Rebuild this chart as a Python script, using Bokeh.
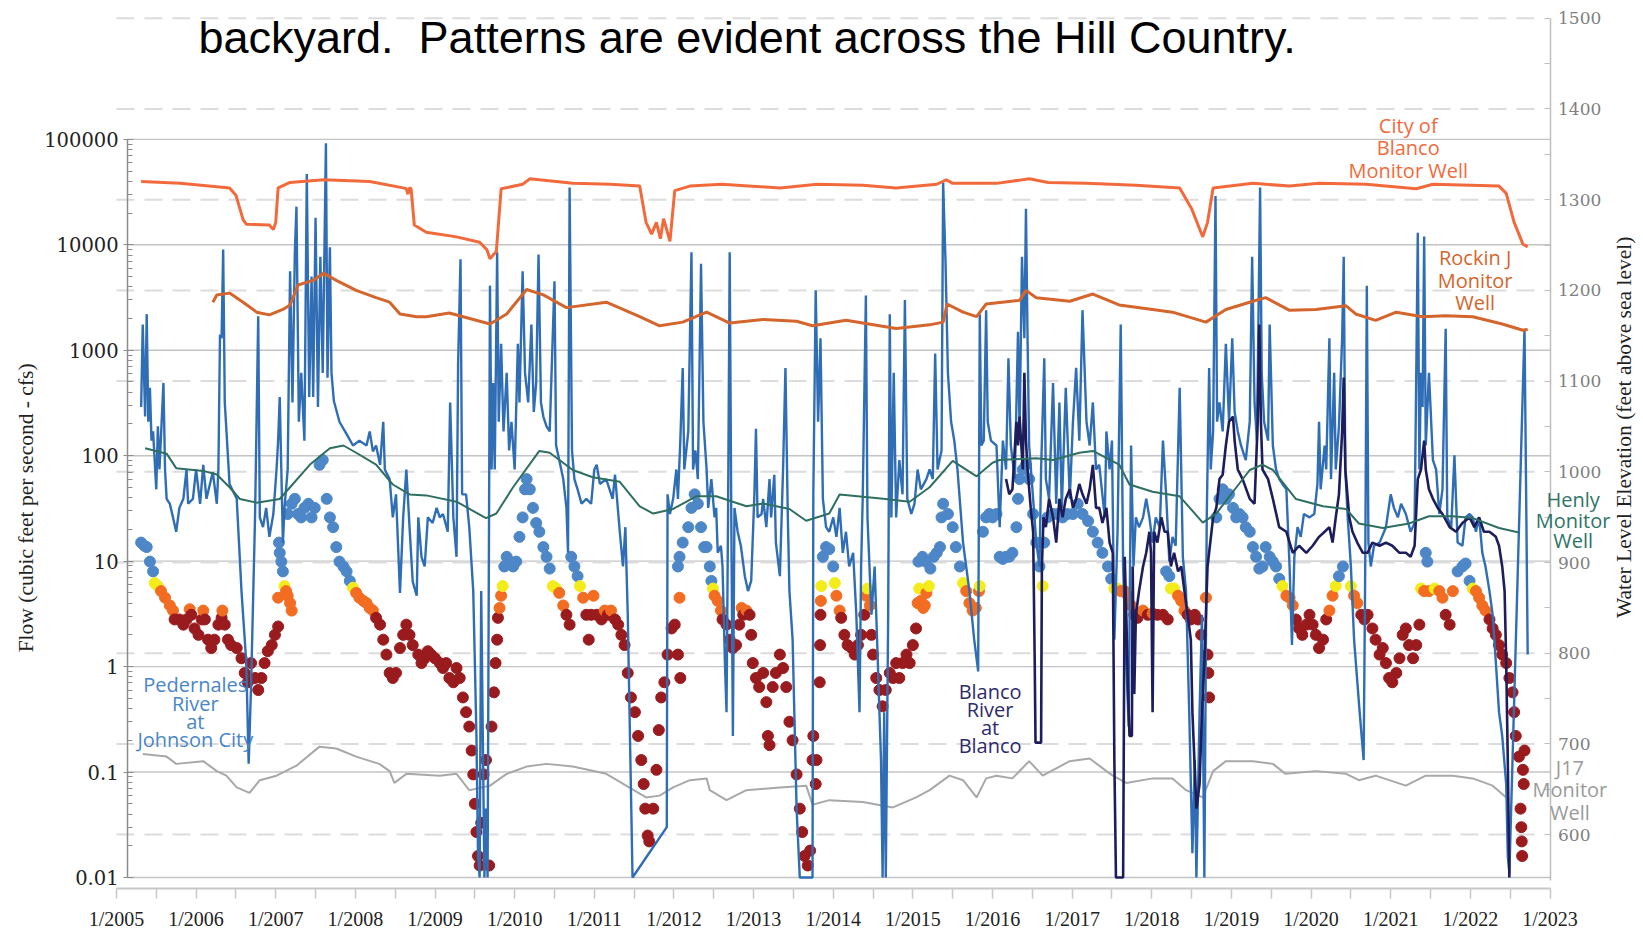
import math
from bokeh.plotting import figure
from bokeh.models import Range1d, LinearAxis, LinearScale, FixedTicker, Label, ColumnDataSource
from bokeh.embed import file_html
from bokeh.resources import INLINE

# ---------------- axis ticks / labels ----------------
YEAR_TICKS = list(range(2005, 2024))
YEAR_LABELS = ["1/%d" % y for y in YEAR_TICKS]
FLOW_TICKS = [0.01, 0.1, 1, 10, 100, 1000, 10000, 100000]
FLOW_LABELS = ["0.01", "0.1", "1", "10", "100", "1000", "10000", "100000"]
ELEV_TICKS = [600, 700, 800, 900, 1000, 1100, 1200, 1300, 1400, 1500]
ELEV_LABELS = ["600", "700", "800", "900", "1000", "1100", "1200", "1300", "1400", "1500"]

# ---------------- well levels (ft above sea level, right axis) ----------------
CITY_BLANCO = [(2005.31, 1320), (2005.80, 1318), (2006.42, 1313), (2006.50, 1305), (2006.59, 1278), (2006.63, 1273),
    (2006.92, 1272), (2006.97, 1267), (2007.00, 1275), (2007.03, 1313), (2007.18, 1319), (2007.60, 1322),
    (2008.18, 1320), (2008.60, 1313), (2008.64, 1312), (2008.66, 1306), (2008.68, 1313), (2008.70, 1312),
    (2008.74, 1272), (2008.89, 1264), (2009.27, 1259), (2009.56, 1253), (2009.65, 1245), (2009.69, 1235),
    (2009.77, 1243), (2009.83, 1312), (2010.10, 1317), (2010.19, 1323), (2010.73, 1318), (2011.20, 1317),
    (2011.57, 1315), (2011.65, 1275), (2011.72, 1262), (2011.78, 1275), (2011.83, 1257), (2011.87, 1279),
    (2011.95, 1254), (2012.01, 1310), (2012.20, 1315), (2012.60, 1317), (2013.33, 1313), (2013.80, 1317),
    (2014.37, 1316), (2014.79, 1313), (2015.30, 1317), (2015.42, 1322), (2015.50, 1318), (2016.05, 1318),
    (2016.46, 1323), (2016.70, 1319), (2017.17, 1318), (2017.80, 1316), (2018.35, 1313), (2018.50, 1290),
    (2018.64, 1259), (2018.70, 1275), (2018.77, 1313), (2019.27, 1318), (2019.73, 1315), (2020.10, 1318),
    (2020.69, 1317), (2021.32, 1312), (2021.53, 1317), (2022.00, 1316), (2022.36, 1315), (2022.45, 1307),
    (2022.55, 1275), (2022.66, 1251), (2022.72, 1248)]

ROCKIN_J = [(2006.21, 1187), (2006.26, 1195), (2006.42, 1197), (2006.59, 1187), (2006.76, 1176), (2006.92, 1173),
    (2007.09, 1179), (2007.18, 1184), (2007.28, 1206), (2007.47, 1211), (2007.60, 1219), (2007.76, 1211),
    (2008.01, 1200), (2008.26, 1192), (2008.43, 1187), (2008.56, 1174), (2008.77, 1171), (2008.89, 1171),
    (2009.18, 1175), (2009.69, 1163), (2009.90, 1174), (2010.15, 1201), (2010.36, 1195), (2010.65, 1181),
    (2011.15, 1187), (2011.57, 1171), (2011.82, 1161), (2012.11, 1165), (2012.41, 1176), (2012.70, 1164),
    (2013.12, 1168), (2013.54, 1166), (2013.74, 1161), (2014.16, 1167), (2014.79, 1158), (2015.21, 1162),
    (2015.38, 1165), (2015.40, 1173), (2015.43, 1185), (2015.63, 1176), (2015.80, 1171), (2015.92, 1185),
    (2016.34, 1189), (2016.42, 1200), (2016.55, 1192), (2016.97, 1188), (2017.26, 1196), (2017.59, 1184),
    (2018.01, 1179), (2018.26, 1176), (2018.68, 1165), (2018.93, 1179), (2019.27, 1188), (2019.43, 1192),
    (2019.73, 1178), (2020.06, 1179), (2020.44, 1183), (2020.56, 1174), (2020.81, 1167), (2021.07, 1176),
    (2021.40, 1171), (2021.69, 1172), (2022.03, 1171), (2022.40, 1163), (2022.66, 1156), (2022.72, 1157)]

HENLY = [(2005.36, 1026), (2005.63, 1020), (2005.75, 1004), (2006.09, 1001), (2006.26, 997), (2006.42, 983),
    (2006.55, 970), (2006.76, 966), (2007.05, 970), (2007.13, 978), (2007.43, 1008), (2007.68, 1026),
    (2007.85, 1029), (2008.01, 1021), (2008.26, 1008), (2008.47, 986), (2008.68, 975), (2008.89, 974),
    (2009.27, 967), (2009.64, 949), (2009.77, 954), (2009.98, 983), (2010.31, 1023), (2010.44, 1021),
    (2010.73, 1002), (2010.98, 994), (2011.32, 989), (2011.57, 962), (2011.74, 954), (2011.99, 959),
    (2012.28, 973), (2012.53, 973), (2012.91, 962), (2013.12, 965), (2013.45, 959), (2013.66, 946),
    (2013.95, 954), (2014.08, 975), (2014.66, 970), (2014.96, 967), (2015.21, 983), (2015.50, 1012),
    (2015.80, 995), (2016.00, 1010), (2016.09, 1013), (2016.55, 1015), (2016.76, 1013), (2017.09, 1021),
    (2017.26, 1023), (2017.59, 1008), (2017.72, 986), (2018.01, 978), (2018.35, 973), (2018.64, 944),
    (2018.81, 954), (2019.02, 978), (2019.23, 1002), (2019.39, 1008), (2019.52, 1002), (2019.81, 970),
    (2020.15, 962), (2020.44, 959), (2020.60, 943), (2020.90, 938), (2021.23, 943), (2021.48, 951),
    (2021.78, 951), (2022.03, 949), (2022.36, 938), (2022.61, 933)]

J17 = [(2005.33, 689), (2005.63, 686), (2005.75, 678), (2006.09, 681), (2006.26, 670), (2006.38, 665),
    (2006.51, 652), (2006.67, 646), (2006.80, 660), (2007.01, 665), (2007.26, 676), (2007.55, 697),
    (2007.76, 695), (2008.01, 686), (2008.30, 678), (2008.43, 670), (2008.49, 657), (2008.64, 667),
    (2009.06, 665), (2009.27, 667), (2009.43, 649), (2009.69, 654), (2009.90, 667), (2010.15, 675),
    (2010.40, 678), (2010.73, 675), (2011.15, 667), (2011.40, 654), (2011.65, 641), (2011.82, 643),
    (2011.99, 652), (2012.20, 660), (2012.41, 662), (2012.45, 649), (2012.66, 638), (2012.91, 649),
    (2013.33, 652), (2013.66, 654), (2013.74, 633), (2013.95, 638), (2014.37, 636), (2014.75, 630),
    (2015.04, 641), (2015.21, 649), (2015.46, 665), (2015.63, 660), (2015.80, 641), (2015.92, 662),
    (2016.05, 665), (2016.25, 662), (2016.46, 681), (2016.63, 665), (2016.97, 681), (2017.22, 684),
    (2017.43, 670), (2017.51, 665), (2017.68, 657), (2018.01, 662), (2018.26, 662), (2018.43, 649),
    (2018.64, 641), (2018.77, 670), (2018.93, 681), (2019.27, 681), (2019.52, 678), (2019.68, 667),
    (2020.06, 670), (2020.44, 667), (2020.60, 660), (2020.81, 665), (2021.19, 654), (2021.44, 665),
    (2021.78, 665), (2022.03, 662), (2022.28, 654), (2022.45, 641)]

# ---------------- river flows (cfs, left log axis) ----------------
PEDERNALES = [(2005.31, 290), (2005.33, 1750), (2005.36, 235), (2005.38, 2200), (2005.40, 210), (2005.42, 440),
    (2005.44, 139), (2005.46, 170), (2005.50, 48), (2005.52, 190), (2005.54, 74), (2005.59, 490), (2005.61, 74),
    (2005.63, 39), (2005.67, 35), (2005.71, 26), (2005.75, 19), (2005.79, 32), (2005.84, 39), (2005.88, 74),
    (2005.90, 35), (2005.96, 39), (2006.00, 74), (2006.05, 35), (2006.09, 82), (2006.13, 39), (2006.21, 70),
    (2006.26, 35), (2006.28, 74), (2006.30, 1400), (2006.32, 1300), (2006.34, 9000), (2006.36, 320), (2006.42, 54),
    (2006.51, 39), (2006.57, 5.2), (2006.63, 1.1), (2006.66, 0.12), (2006.69, 0.64), (2006.74, 26), (2006.78, 2100),
    (2006.80, 26), (2006.84, 21), (2006.88, 32), (2006.92, 17), (2006.97, 28), (2007.01, 74), (2007.03, 139),
    (2007.05, 360), (2007.07, 74), (2007.09, 15), (2007.11, 32), (2007.15, 74), (2007.18, 5600), (2007.21, 320),
    (2007.24, 8500), (2007.26, 23000), (2007.29, 210), (2007.32, 610), (2007.36, 139), (2007.39, 47000),
    (2007.42, 360), (2007.45, 5000), (2007.47, 360), (2007.50, 18000), (2007.53, 290), (2007.56, 7700),
    (2007.59, 610), (2007.63, 92000), (2007.65, 550), (2007.68, 9500), (2007.70, 610), (2007.73, 330),
    (2007.80, 210), (2007.89, 160), (2007.97, 125), (2008.05, 139), (2008.14, 125), (2008.18, 170), (2008.22, 110),
    (2008.26, 125), (2008.31, 82), (2008.35, 210), (2008.37, 74), (2008.43, 60), (2008.47, 26), (2008.51, 43),
    (2008.56, 5.0), (2008.60, 26),
    (2008.64, 74), (2008.68, 21), (2008.72, 6.4), (2008.77, 4.7), (2008.79, 26), (2008.83, 11), (2008.87, 8.9),
    (2008.91, 26), (2008.97, 23), (2009.02, 32), (2009.06, 26), (2009.10, 28), (2009.16, 19), (2009.19, 320),
    (2009.23, 26), (2009.27, 11), (2009.29, 750), (2009.32, 7300), (2009.34, 43), (2009.39, 43), (2009.43, 21),
    (2009.48, 5.2), (2009.50, 1.1), (2009.52, 0.22), (2009.54, 0.016), (2009.56, 0.01), (2009.58, 5.2),
    (2009.60, 0.22), (2009.62, 0.01), (2009.64, 0.045), (2009.66, 0.01), (2009.69, 4100), (2009.71, 74),
    (2009.73, 490), (2009.75, 74), (2009.78, 8500), (2009.80, 210), (2009.83, 1150), (2009.86, 170), (2009.90, 610),
    (2009.93, 112), (2009.96, 210), (2010.00, 74), (2010.04, 1150), (2010.06, 320), (2010.10, 5600), (2010.13, 610),
    (2010.17, 320), (2010.21, 1750), (2010.24, 260), (2010.27, 490), (2010.30, 8100), (2010.33, 320), (2010.36, 235),
    (2010.40, 190), (2010.44, 170), (2010.50, 4500), (2010.52, 125), (2010.56, 91), (2010.61, 60), (2010.65, 32),
    (2010.67, 12), (2010.69, 35000), (2010.72, 112), (2010.75, 60), (2010.79, 48), (2010.84, 35), (2010.90, 39),
    (2010.96, 35), (2011.00, 74), (2011.03, 82), (2011.07, 54), (2011.15, 60), (2011.23, 39), (2011.26, 66),
    (2011.32, 19), (2011.36, 8.9), (2011.39, 21), (2011.42, 3.1), (2011.48, 0.01), (2011.91, 0.03), (2011.92, 43),
    (2011.95, 28), (2011.99, 39), (2012.03, 74), (2012.05, 39), (2012.08, 139), (2012.11, 680), (2012.13, 74),
    (2012.18, 170), (2012.22, 8500), (2012.24, 74), (2012.27, 112), (2012.30, 60), (2012.34, 6600), (2012.37, 210),
    (2012.41, 74),
    (2012.43, 32), (2012.47, 60), (2012.51, 26), (2012.53, 32), (2012.55, 12), (2012.59, 14), (2012.61, 8.9),
    (2012.64, 1.1), (2012.66, 0.37), (2012.68, 32), (2012.70, 8500), (2012.72, 26), (2012.74, 0.22), (2012.76, 32),
    (2012.80, 19), (2012.84, 14), (2012.89, 7.2), (2012.93, 5.2), (2012.97, 6.5), (2013.01, 43), (2013.03, 180),
    (2013.05, 26), (2013.10, 28), (2013.12, 39), (2013.16, 21), (2013.20, 60), (2013.22, 26), (2013.26, 66),
    (2013.28, 15), (2013.33, 7.2), (2013.37, 74), (2013.40, 680), (2013.43, 26), (2013.45, 5.2), (2013.49, 1.8),
    (2013.54, 0.045), (2013.58, 0.01), (2013.74, 0.01), (2013.75, 43), (2013.78, 3700), (2013.81, 210),
    (2013.84, 1300), (2013.87, 39), (2013.91, 21), (2013.95, 19), (2014.00, 26), (2014.04, 17), (2014.08, 32),
    (2014.12, 12), (2014.16, 19), (2014.20, 8.9), (2014.25, 12), (2014.29, 3.1), (2014.33, 0.37), (2014.35, 8.9),
    (2014.37, 39), (2014.41, 3300), (2014.43, 26), (2014.48, 3.1), (2014.52, 8.9), (2014.56, 1.1), (2014.60, 0.13),
    (2014.62, 0.01), (2014.64, 0.37), (2014.66, 0.01), (2014.69, 3.1), (2014.71, 2200), (2014.73, 26),
    (2014.76, 610), (2014.79, 26), (2014.83, 91), (2014.87, 43), (2014.90, 3000), (2014.93, 39), (2014.98, 28),
    (2015.02, 35), (2015.06, 74), (2015.10, 48), (2015.17, 60), (2015.21, 74), (2015.25, 60), (2015.28, 930),
    (2015.31, 74), (2015.36, 112), (2015.38, 39000), (2015.41, 6900), (2015.44, 610), (2015.48, 210),
    (2015.52, 139), (2015.56, 74), (2015.63, 15), (2015.71, 5.2), (2015.77, 1.8), (2015.82, 0.9), (2015.84, 2200),
    (2015.86, 125), (2015.89, 139), (2015.92, 2400), (2015.94, 210), (2015.98, 139), (2016.05, 125),
    (2016.09, 21), (2016.13, 139), (2016.17, 74), (2016.20, 840), (2016.23, 125), (2016.28, 60), (2016.32, 1500),
    (2016.34, 170), (2016.37, 7700), (2016.40, 1300), (2016.42, 22000), (2016.44, 1300), (2016.46, 125),
    (2016.51, 39), (2016.55, 15), (2016.59, 8.9), (2016.61, 74), (2016.65, 840), (2016.67, 60), (2016.71, 39),
    (2016.76, 490), (2016.80, 35), (2016.84, 320), (2016.87, 32), (2016.92, 440), (2016.97, 39), (2017.01, 210),
    (2017.05, 680), (2017.09, 139), (2017.13, 2400), (2017.18, 210), (2017.22, 125), (2017.26, 320), (2017.30, 74),
    (2017.34, 82), (2017.41, 26), (2017.43, 170), (2017.47, 74), (2017.50, 139), (2017.53, 1.8), (2017.57, 19),
    (2017.61, 1750), (2017.64, 8.9), (2017.68, 1.1), (2017.71, 0.27), (2017.74, 125), (2017.77, 8.9),
    (2017.80, 26), (2017.84, 21), (2017.89, 26), (2017.93, 39), (2017.97, 26), (2018.01, 15), (2018.05, 26),
    (2018.10, 21), (2018.14, 139), (2018.18, 43), (2018.22, 9.9), (2018.26, 17), (2018.30, 14), (2018.35, 440),
    (2018.39, 11), (2018.43, 5.2), (2018.47, 0.37), (2018.51, 0.017), (2018.54, 0.13), (2018.56, 0.01),
    (2018.60, 0.37), (2018.63, 3.1), (2018.66, 0.01), (2018.69, 26), (2018.72, 680), (2018.74, 74),
    (2018.77, 170), (2018.80, 29000), (2018.82, 210), (2018.85, 320), (2018.89, 170), (2018.93, 1150),
    (2018.97, 210), (2019.01, 1300), (2019.04, 260), (2019.08, 170), (2019.12, 125), (2019.18, 91),
    (2019.23, 210), (2019.26, 7700), (2019.29, 320), (2019.32, 139), (2019.36, 35000), (2019.38, 610),
    (2019.41, 210), (2019.46, 139), (2019.48, 1750), (2019.52, 125), (2019.56, 74), (2019.60, 60), (2019.64, 54),
    (2019.69, 48),
    (2019.73, 8.9), (2019.76, 1.6), (2019.79, 11), (2019.83, 21), (2019.87, 17), (2019.91, 28), (2019.98, 26),
    (2020.04, 28), (2020.08, 54), (2020.10, 210), (2020.12, 48), (2020.17, 125), (2020.19, 74), (2020.23, 1300),
    (2020.25, 60), (2020.29, 610), (2020.31, 74), (2020.35, 190), (2020.39, 1300), (2020.41, 7700), (2020.43, 74),
    (2020.46, 26), (2020.50, 8.9), (2020.54, 1.8), (2020.61, 0.37), (2020.66, 0.13), (2020.68, 8.9),
    (2020.70, 4100), (2020.72, 15), (2020.75, 8.9), (2020.79, 14), (2020.86, 15), (2020.94, 21), (2021.00, 43),
    (2021.04, 32), (2021.09, 26), (2021.13, 35), (2021.19, 28), (2021.25, 19), (2021.30, 23), (2021.34, 13000),
    (2021.36, 74), (2021.38, 610), (2021.40, 290), (2021.42, 12000), (2021.44, 125), (2021.48, 610),
    (2021.53, 91), (2021.57, 74), (2021.61, 28), (2021.65, 48), (2021.69, 1600), (2021.71, 26), (2021.76, 21),
    (2021.80, 101), (2021.84, 15), (2021.90, 14), (2021.94, 26), (2021.99, 28), (2022.03, 26), (2022.07, 19),
    (2022.11, 26), (2022.15, 12), (2022.19, 8.9), (2022.24, 5.2), (2022.28, 3.1), (2022.32, 1.1), (2022.36, 0.37),
    (2022.40, 0.22), (2022.45, 0.077), (2022.47, 0.016), (2022.49, 0.011), (2022.68, 1600), (2022.72, 1.3)]

BLANCO_RIVER = [(2016.17, 60), (2016.21, 43), (2016.25, 48), (2016.30, 210), (2016.32, 125), (2016.34, 235),
    (2016.38, 74), (2016.40, 610), (2016.42, 139), (2016.44, 74), (2016.48, 32), (2016.51, 19), (2016.53, 1.1),
    (2016.54, 0.19), (2016.61, 0.19), (2016.62, 8.9), (2016.64, 26), (2016.67, 21), (2016.71, 39), (2016.76, 26),
    (2016.80, 15), (2016.84, 39), (2016.88, 26), (2016.92, 39), (2016.97, 48), (2017.01, 32), (2017.05, 39),
    (2017.09, 54), (2017.13, 43), (2017.18, 35), (2017.22, 48), (2017.26, 82), (2017.30, 32), (2017.34, 32),
    (2017.38, 23), (2017.43, 32), (2017.47, 15), (2017.51, 12), (2017.53, 0.13), (2017.55, 0.01), (2017.64, 0.01),
    (2017.66, 11), (2017.68, 3.1), (2017.70, 0.64), (2017.72, 0.22), (2017.75, 0.22), (2017.76, 8.9),
    (2017.78, 0.55), (2017.80, 3.1), (2017.84, 5.2), (2017.89, 8.9), (2017.93, 12), (2017.97, 19), (2017.99, 12),
    (2018.01, 0.37), (2018.03, 19), (2018.07, 15), (2018.12, 26), (2018.16, 19), (2018.20, 19), (2018.24, 8.9),
    (2018.28, 12), (2018.33, 8.0), (2018.37, 8.9), (2018.41, 5.2), (2018.45, 3.1), (2018.49, 1.8), (2018.51, 0.37),
    (2018.56, 0.045), (2018.60, 0.077), (2018.63, 0.37), (2018.66, 1.1), (2018.70, 8.9), (2018.77, 26),
    (2018.81, 32), (2018.85, 60), (2018.89, 66), (2018.93, 125), (2018.97, 210), (2019.02, 235), (2019.04, 139),
    (2019.08, 74), (2019.14, 60), (2019.23, 39), (2019.29, 35), (2019.33, 210), (2019.35, 1750), (2019.37, 210),
    (2019.39, 74), (2019.46, 60), (2019.52, 39), (2019.60, 21), (2019.69, 19), (2019.77, 12), (2019.85, 14),
    (2019.94, 12), (2020.02, 14), (2020.10, 17), (2020.17, 19), (2020.23, 21), (2020.27, 15), (2020.31, 26),
    (2020.35, 43), (2020.39, 170), (2020.41, 550), (2020.43, 74), (2020.48, 26), (2020.52, 19), (2020.58, 15),
    (2020.65, 12), (2020.71, 12), (2020.77, 15), (2020.86, 14), (2020.94, 15), (2021.02, 14), (2021.11, 12),
    (2021.19, 12), (2021.25, 11), (2021.30, 14), (2021.34, 60), (2021.38, 74), (2021.42, 139), (2021.44, 74),
    (2021.48, 48), (2021.53, 39), (2021.59, 32), (2021.65, 28), (2021.74, 21), (2021.82, 19), (2021.90, 23),
    (2021.99, 26), (2022.05, 21), (2022.11, 26), (2022.17, 19), (2022.24, 19), (2022.32, 17), (2022.36, 14),
    (2022.40, 8.9), (2022.43, 5.2), (2022.45, 1.1), (2022.47, 0.13), (2022.49, 0.01)]

# flow classes of the dotted gauge series (cfs thresholds)
DOT_BREAKS = [3.2, 5.3, 6.5]
DOT_COLORS = ["#9A1B1E", "#F26C22", "#F4EB1B", "#4D87C7"]

GAUGE_DOTS = [(2005.31, 15), (2005.35, 14), (2005.38, 13.6), (2005.42, 9.9), (2005.46, 8.0), (2005.48, 6.2),
    (2005.52, 5.8), (2005.56, 5.2), (2005.61, 4.5), (2005.67, 3.8), (2005.71, 3.4), (2005.73, 2.8), (2005.79, 2.8),
    (2005.84, 2.5), (2005.88, 2.8), (2005.92, 3.5), (2005.94, 3.1), (2005.98, 2.3), (2006.03, 2.0), (2006.07, 2.8),
    (2006.09, 3.4), (2006.11, 2.8), (2006.15, 1.8), (2006.19, 1.5), (2006.23, 1.8), (2006.28, 2.5), (2006.32, 2.9),
    (2006.33, 3.4), (2006.36, 2.5), (2006.40, 1.8), (2006.44, 1.6), (2006.51, 1.5), (2006.57, 1.2), (2006.61, 0.87),
    (2006.65, 0.71), (2006.69, 1.08), (2006.74, 0.78), (2006.78, 0.60), (2006.82, 0.78), (2006.86, 1.08),
    (2006.90, 1.4), (2006.95, 1.6), (2006.99, 2.0), (2007.03, 2.4),
    (2007.03, 4.5), (2007.04, 15), (2007.05, 12), (2007.07, 9.9), (2007.09, 8.0), (2007.11, 5.8), (2007.13, 5.2),
    (2007.15, 4.7), (2007.18, 4.0), (2007.20, 3.4),
    (2007.15, 28), (2007.20, 35), (2007.24, 39), (2007.28, 28), (2007.32, 26), (2007.36, 32), (2007.41, 35),
    (2007.45, 26), (2007.49, 32), (2007.55, 82), (2007.59, 91), (2007.64, 39), (2007.68, 26), (2007.72, 21),
    (2007.76, 13.6), (2007.80, 9.9), (2007.85, 8.9), (2007.89, 8.0), (2007.93, 6.5), (2007.97, 5.6), (2008.01, 5.0),
    (2008.05, 4.5), (2008.10, 4.2), (2008.14, 4.0), (2008.18, 3.6), (2008.22, 3.4), (2008.26, 2.9), (2008.31, 2.5),
    (2008.35, 1.8), (2008.39, 1.3), (2008.43, 0.87), (2008.47, 0.78), (2008.51, 0.87), (2008.56, 1.5),
    (2008.60, 2.0), (2008.64, 2.5), (2008.68, 2.0), (2008.72, 1.6), (2008.79, 1.3), (2008.83, 1.08),
    (2008.87, 1.2), (2008.91, 1.4), (2008.95, 1.3), (2009.00, 1.2), (2009.06, 1.08), (2009.10, 0.97),
    (2009.14, 1.08), (2009.18, 0.78), (2009.23, 0.71), (2009.27, 0.97), (2009.31, 0.78), (2009.35, 0.51),
    (2009.39, 0.37), (2009.43, 0.27), (2009.46, 0.16), (2009.48, 0.095), (2009.50, 0.050), (2009.52, 0.027),
    (2009.54, 0.016), (2009.56, 0.013), (2009.58, 0.033), (2009.61, 0.095), (2009.64, 0.13), (2009.68, 0.013),
    (2009.71, 0.27), (2009.74, 0.57), (2009.76, 1.08), (2009.78, 1.8), (2009.79, 2.9), (2009.81, 3.6),
    (2009.83, 4.7), (2009.85, 5.8), (2009.87, 8.9), (2009.90, 11), (2009.94, 9.9), (2009.98, 8.9), (2010.02, 9.9),
    (2010.06, 17), (2010.10, 26), (2010.13, 48), (2010.15, 60), (2010.19, 48), (2010.23, 32), (2010.27, 23),
    (2010.31, 19), (2010.36, 13.6), (2010.40, 11), (2010.44, 8.5), (2010.48, 5.8), (2010.52, 5.5), (2010.56, 5.0),
    (2010.61, 3.8), (2010.65, 3.1), (2010.69, 2.5), (2010.71, 11), (2010.75, 8.9), (2010.79, 7.2), (2010.82, 5.8),
    (2010.86, 4.5), (2010.90, 3.1), (2010.93, 1.8), (2010.96, 3.1), (2010.99, 4.7), (2011.03, 3.1), (2011.09, 2.8),
    (2011.13, 3.4), (2011.17, 3.1), (2011.21, 3.4), (2011.26, 2.8), (2011.30, 2.5), (2011.34, 2.0), (2011.38, 1.6),
    (2011.42, 0.87), (2011.46, 0.51), (2011.51, 0.37), (2011.55, 0.22), (2011.59, 0.13), (2011.62, 0.077),
    (2011.64, 0.045), (2011.67, 0.025), (2011.69, 0.022), (2011.74, 0.045), (2011.78, 0.105), (2011.81, 0.25),
    (2011.84, 0.51), (2011.88, 0.71), (2011.92, 1.3), (2011.97, 2.3), (2012.01, 2.5), (2012.05, 1.3),
    (2012.08, 0.78), (2012.05, 8.9), (2012.07, 11), (2012.07, 4.5), (2012.11, 15), (2012.18, 21), (2012.22, 32),
    (2012.26, 43), (2012.30, 35), (2012.34, 21), (2012.38, 13.6), (2012.41, 13.6), (2012.45, 8.9), (2012.47, 6.5),
    (2012.49, 5.5), (2012.51, 4.7), (2012.55, 4.2), (2012.59, 3.4), (2012.61, 2.8), (2012.66, 2.5), (2012.70, 1.8),
    (2012.74, 1.5), (2012.78, 1.6), (2012.82, 2.5), (2012.85, 3.6), (2012.87, 3.1), (2012.91, 3.4), (2012.95, 3.1),
    (2012.97, 2.0), (2012.99, 1.08), (2013.03, 0.78), (2013.07, 0.64), (2013.12, 0.87), (2013.16, 0.46),
    (2013.18, 0.22), (2013.20, 0.18), (2013.24, 0.64), (2013.28, 0.87), (2013.33, 1.3), (2013.37, 0.97),
    (2013.41, 0.64), (2013.45, 0.30), (2013.49, 0.20), (2013.54, 0.095), (2013.58, 0.045), (2013.61, 0.027),
    (2013.64, 0.016), (2013.68, 0.013), (2013.71, 0.018), (2013.74, 0.13), (2013.75, 0.22), (2013.78, 0.077),
    (2013.79, 0.13), (2013.83, 0.71), (2013.835, 1.6), (2013.84, 3.1), (2013.845, 4.2), (2013.85, 5.8),
    (2013.87, 11), (2013.91, 13.6), (2013.95, 13), (2014.00, 8.9), (2014.02, 6.2), (2014.04, 4.7), (2014.08, 3.4),
    (2014.10, 2.9), (2014.14, 2.0), (2014.18, 1.6), (2014.23, 1.5), (2014.27, 1.3), (2014.31, 1.6), (2014.35, 2.0),
    (2014.39, 3.1), (2014.41, 4.7), (2014.43, 5.5), (2014.46, 3.8), (2014.48, 2.0), (2014.50, 1.3),
    (2014.54, 0.78), (2014.58, 0.60), (2014.62, 0.42), (2014.66, 0.60), (2014.71, 0.87), (2014.75, 0.78),
    (2014.79, 1.08), (2014.83, 0.78), (2014.87, 1.08), (2014.92, 1.3), (2014.96, 1.08), (2015.00, 1.6),
    (2015.04, 2.3), (2015.06, 4.0), (2015.07, 9.9), (2015.08, 5.5), (2015.10, 4.2), (2015.12, 11), (2015.13, 3.6),
    (2015.15, 3.8), (2015.16, 9.9), (2015.17, 5.0), (2015.20, 5.8), (2015.22, 8.5), (2015.26, 11), (2015.30, 12),
    (2015.34, 13.6), (2015.36, 26), (2015.38, 35), (2015.44, 28), (2015.50, 21), (2015.54, 13.6), (2015.59, 8.9),
    (2015.63, 6.2), (2015.67, 5.2), (2015.71, 4.0), (2015.75, 3.4), (2015.79, 3.6), (2015.83, 5.2), (2015.84, 5.8),
    (2015.88, 19), (2015.92, 26), (2015.96, 28), (2016.00, 26), (2016.05, 28), (2016.09, 11), (2016.13, 10.5),
    (2016.17, 11), (2016.21, 11), (2016.25, 12), (2016.30, 21), (2016.32, 39), (2016.34, 60), (2016.38, 74),
    (2016.42, 82), (2016.46, 60), (2016.51, 28), (2016.55, 15), (2016.59, 8.9), (2016.63, 5.8), (2016.65, 15),
    (2016.69, 26), (2016.76, 28), (2016.82, 28), (2016.88, 26), (2016.94, 28), (2017.01, 28), (2017.07, 35),
    (2017.13, 28), (2017.20, 24), (2017.26, 19), (2017.32, 15), (2017.38, 12), (2017.45, 8.9), (2017.49, 6.8),
    (2017.53, 5.5), (2017.57, 5.5), (2017.61, 5.2), (2017.66, 5.2), (2017.70, 4.7), (2017.74, 3.8), (2017.78, 3.1),
    (2017.82, 2.9), (2017.89, 3.4), (2017.95, 3.1), (2018.01, 3.2), (2018.07, 3.1), (2018.14, 3.1), (2018.18, 8.0),
    (2018.20, 2.8), (2018.22, 7.2), (2018.24, 5.5), (2018.28, 5.5), (2018.33, 4.7), (2018.37, 4.2), (2018.41, 3.4),
    (2018.45, 3.1), (2018.49, 2.8), (2018.54, 3.1), (2018.58, 2.8), (2018.62, 2.0), (2018.68, 4.5), (2018.70, 1.3),
    (2018.71, 0.87), (2018.72, 0.51), (2018.81, 26), (2018.85, 39), (2018.89, 48), (2018.93, 39), (2018.97, 43),
    (2019.02, 32), (2019.06, 26), (2019.10, 28), (2019.14, 26), (2019.18, 21), (2019.23, 19), (2019.27, 13.6),
    (2019.31, 11), (2019.35, 8.5), (2019.39, 8.9), (2019.43, 13.6), (2019.48, 11), (2019.52, 9.9), (2019.56, 8.9),
    (2019.60, 6.8), (2019.64, 5.8), (2019.69, 4.7), (2019.73, 4.5), (2019.77, 3.8), (2019.81, 2.8), (2019.85, 2.3),
    (2019.89, 2.0), (2019.94, 2.5), (2019.98, 3.1), (2020.02, 2.5), (2020.06, 2.0), (2020.10, 1.5), (2020.15, 1.8),
    (2020.19, 2.8), (2020.23, 3.4), (2020.27, 4.7), (2020.31, 5.8), (2020.35, 7.2), (2020.40, 8.9), (2020.50, 5.8),
    (2020.54, 4.7), (2020.58, 4.0), (2020.63, 3.1), (2020.67, 2.8), (2020.71, 3.1), (2020.77, 2.3), (2020.81, 1.8),
    (2020.86, 1.3), (2020.90, 1.5), (2020.94, 1.08), (2020.98, 0.78), (2021.02, 0.71), (2021.07, 0.87),
    (2021.11, 1.2), (2021.15, 2.0), (2021.19, 2.3), (2021.23, 1.6), (2021.28, 1.2), (2021.32, 1.6), (2021.36, 2.5),
    (2021.38, 5.5), (2021.42, 5.2), (2021.44, 12), (2021.46, 9.9), (2021.48, 5.2), (2021.55, 5.5), (2021.61, 5.2),
    (2021.65, 4.5), (2021.69, 3.1), (2021.74, 2.5), (2021.78, 5.2), (2021.84, 8.0), (2021.90, 8.9), (2021.94, 9.5),
    (2021.99, 6.5), (2022.03, 5.5), (2022.07, 5.2), (2022.11, 4.5), (2022.15, 3.8), (2022.19, 3.4), (2022.24, 2.8),
    (2022.28, 2.3), (2022.32, 2.0), (2022.36, 1.6), (2022.40, 1.3), (2022.45, 1.08), (2022.49, 0.78),
    (2022.53, 0.57), (2022.55, 0.37), (2022.57, 0.22), (2022.61, 0.14), (2022.63, 0.045), (2022.64, 0.030),
    (2022.645, 0.022), (2022.65, 0.016), (2022.66, 0.105), (2022.67, 0.077), (2022.68, 0.16)]

# ---------------- text ----------------
HEADLINE = "backyard.\u00a0 Patterns are evident across the Hill Country."
LEFT_TITLE = "Flow (cubic feet per second - cfs)"
RIGHT_TITLE = "Water Level Elevation (feet above sea level)"
SERIES_LABELS = [
    # (lines, x year, first-line elevation, line step (ft), color)
    (["City of", "Blanco", "Monitor Well"], 2021.22, 1382, -24.8, "#F26A3C"),
    (["Rockin J", "Monitor", "Well"], 2022.06, 1236, -24.8, "#D4652C"),
    (["Henly", "Monitor", "Well"], 2023.29, 969, -22.5, "#2E7566"),
    (["J17", "Monitor", "Well"], 2023.25, 674, -24.8, "#9A9A9A"),
    (["Pedernales", "River", "at", "Johnson City"], 2005.99, 765, -20.0, "#4A86C8"),
    (["Blanco", "River", "at", "Blanco"], 2015.97, 758, -20.0, "#2D2B6C"),
]

# axis placement inside the (full-width) frame, in data units
LEFT_AXIS_AT = 2005.14
RIGHT_AXIS_AT = 2023.0
GRID_X = (2005.14, 2023.0)
DASH_X = (2005.0, 2022.88)


def unzip(pts):
    return [a for a, _ in pts], [b for _, b in pts]


# ---------------- figure ----------------
p = figure(width=1643, height=932, output_backend="svg", toolbar_location=None,
           x_range=Range1d(2003.544, 2024.174), y_range=Range1d(10 ** -2.1042, 10 ** 6.3167),
           y_axis_type="log", min_border_left=0, min_border_right=0,
           min_border_top=0, min_border_bottom=43)
p.title = None
p.outline_line_color = None
p.background_fill_color = "white"
p.border_fill_color = "white"
p.extra_y_ranges = {"right": Range1d(540.6, 1519.6)}
p.extra_y_scales = {"right": LinearScale()}
p.xgrid.visible = False
p.ygrid.visible = False

# left (log) axis
ya = p.yaxis[0]
ya.fixed_location = LEFT_AXIS_AT
ya.ticker = FixedTicker(ticks=FLOW_TICKS,
                        minor_ticks=[m * t for t in FLOW_TICKS[:-1] for m in range(2, 10)])
ya.major_label_overrides = dict(zip(FLOW_TICKS, FLOW_LABELS))
ya.bounds = (FLOW_TICKS[0], FLOW_TICKS[-1])
ya.axis_line_color = "#8C8C8C"
ya.axis_line_width = 1.5
ya.major_tick_line_color = "#8C8C8C"
ya.minor_tick_line_color = "#8C8C8C"
ya.major_tick_in = 6
ya.major_tick_out = 4
ya.minor_tick_in = 5
ya.minor_tick_out = 0
ya.major_label_text_font = "DejaVu Serif"
ya.major_label_text_font_size = "19.5px"
ya.major_label_text_color = "#222222"
ya.major_label_standoff = 5

# bottom axis
xa = p.xaxis[0]
xa.ticker = FixedTicker(ticks=YEAR_TICKS, minor_ticks=[y + 0.5 for y in YEAR_TICKS[:-1]])
xa.major_label_overrides = dict(zip(YEAR_TICKS, YEAR_LABELS))
xa.bounds = (YEAR_TICKS[0], YEAR_TICKS[-1])
xa.axis_line_color = "#C8C8C8"
xa.axis_line_width = 2
xa.major_tick_line_color = "#C8C8C8"
xa.minor_tick_line_color = "#C8C8C8"
xa.major_tick_line_width = 1.5
xa.minor_tick_line_width = 1.5
xa.major_tick_in = 0
xa.major_tick_out = 10
xa.minor_tick_in = 0
xa.minor_tick_out = 10
xa.major_label_text_font = "Liberation Serif"
xa.major_label_text_font_size = "20px"
xa.major_label_text_color = "#222222"
xa.major_label_standoff = 9

# right (elevation) axis, drawn at 1/2023
ra = LinearAxis(y_range_name="right", fixed_location=RIGHT_AXIS_AT,
                ticker=FixedTicker(ticks=ELEV_TICKS, minor_ticks=[t + 50 for t in ELEV_TICKS[:-1]]))
ra.major_label_overrides = dict(zip(ELEV_TICKS, ELEV_LABELS))
ra.bounds = (549, 1500)
ra.axis_line_color = "#BFBFBF"
ra.axis_line_width = 1.5
ra.major_tick_line_color = "#BFBFBF"
ra.minor_tick_line_color = "#BFBFBF"
ra.major_tick_in = 6
ra.major_tick_out = 0
ra.minor_tick_in = 6
ra.minor_tick_out = 0
ra.major_label_text_font = "DejaVu Serif"
ra.major_label_text_font_size = "17px"
ra.major_label_text_color = "#808080"
ra.major_label_standoff = 8
p.add_layout(ra, "right")

# grid lines
p.segment(x0=[GRID_X[0]] * len(FLOW_TICKS), x1=[GRID_X[1]] * len(FLOW_TICKS), y0=FLOW_TICKS, y1=FLOW_TICKS,
          line_color="#C4C4C4", line_width=1.4, level="underlay")
p.segment(x0=[DASH_X[0]] * len(ELEV_TICKS), x1=[DASH_X[1]] * len(ELEV_TICKS), y0=ELEV_TICKS, y1=ELEV_TICKS,
          y_range_name="right", line_color="#DCDCDC", line_width=2, line_dash="18 10", level="underlay")

# ---------------- series ----------------
x, y = unzip(J17)
p.line(x, y, y_range_name="right", line_color="#A8A8A8", line_width=2)


def dot_color(v):
    i = 0
    while i < len(DOT_BREAKS) and v >= DOT_BREAKS[i]:
        i += 1
    return DOT_COLORS[i]


dx, dy = unzip(GAUGE_DOTS)
src = ColumnDataSource(dict(x=dx, y=dy, c=[dot_color(v) for v in dy]))
p.scatter("x", "y", source=src, size=11, fill_color="c", line_color="c")

x, y = unzip(PEDERNALES)
p.line(x, y, line_color="#2F6DB5", line_width=2.4)
x, y = unzip(BLANCO_RIVER)
p.line(x, y, line_color="#1E1D5C", line_width=2.6)
x, y = unzip(HENLY)
p.line(x, y, y_range_name="right", line_color="#2E6F61", line_width=2)
x, y = unzip(ROCKIN_J)
p.line(x, y, y_range_name="right", line_color="#D4652C", line_width=3)
x, y = unzip(CITY_BLANCO)
p.line(x, y, y_range_name="right", line_color="#F26A3C", line_width=3)

# ---------------- annotations ----------------
for lines, lx, ly, step, col in SERIES_LABELS:
    for i, t in enumerate(lines):
        p.add_layout(Label(x=lx, y=ly + i * step, y_range_name="right", text=t,
                           text_align="center", text_baseline="middle",
                           text_font="Open Sans", text_font_size="20px", text_color=col))

p.add_layout(Label(x=2006.03, y=1479, y_range_name="right", text=HEADLINE,
                   text_align="left", text_baseline="alphabetic",
                   text_font="Liberation Sans", text_font_size="45px", text_color="#000000"))
p.add_layout(Label(x=2003.87, y=32, text=LEFT_TITLE, angle=math.pi / 2,
                   text_align="center", text_baseline="middle",
                   text_font="Liberation Serif", text_font_size="21.5px", text_color="#222222"))
p.add_layout(Label(x=2023.935, y=1049, y_range_name="right", text=RIGHT_TITLE, angle=math.pi / 2,
                   text_align="center", text_baseline="middle",
                   text_font="Liberation Serif", text_font_size="21.5px", text_color="#222222"))

open("out.html", "w").write(file_html(p, INLINE))
